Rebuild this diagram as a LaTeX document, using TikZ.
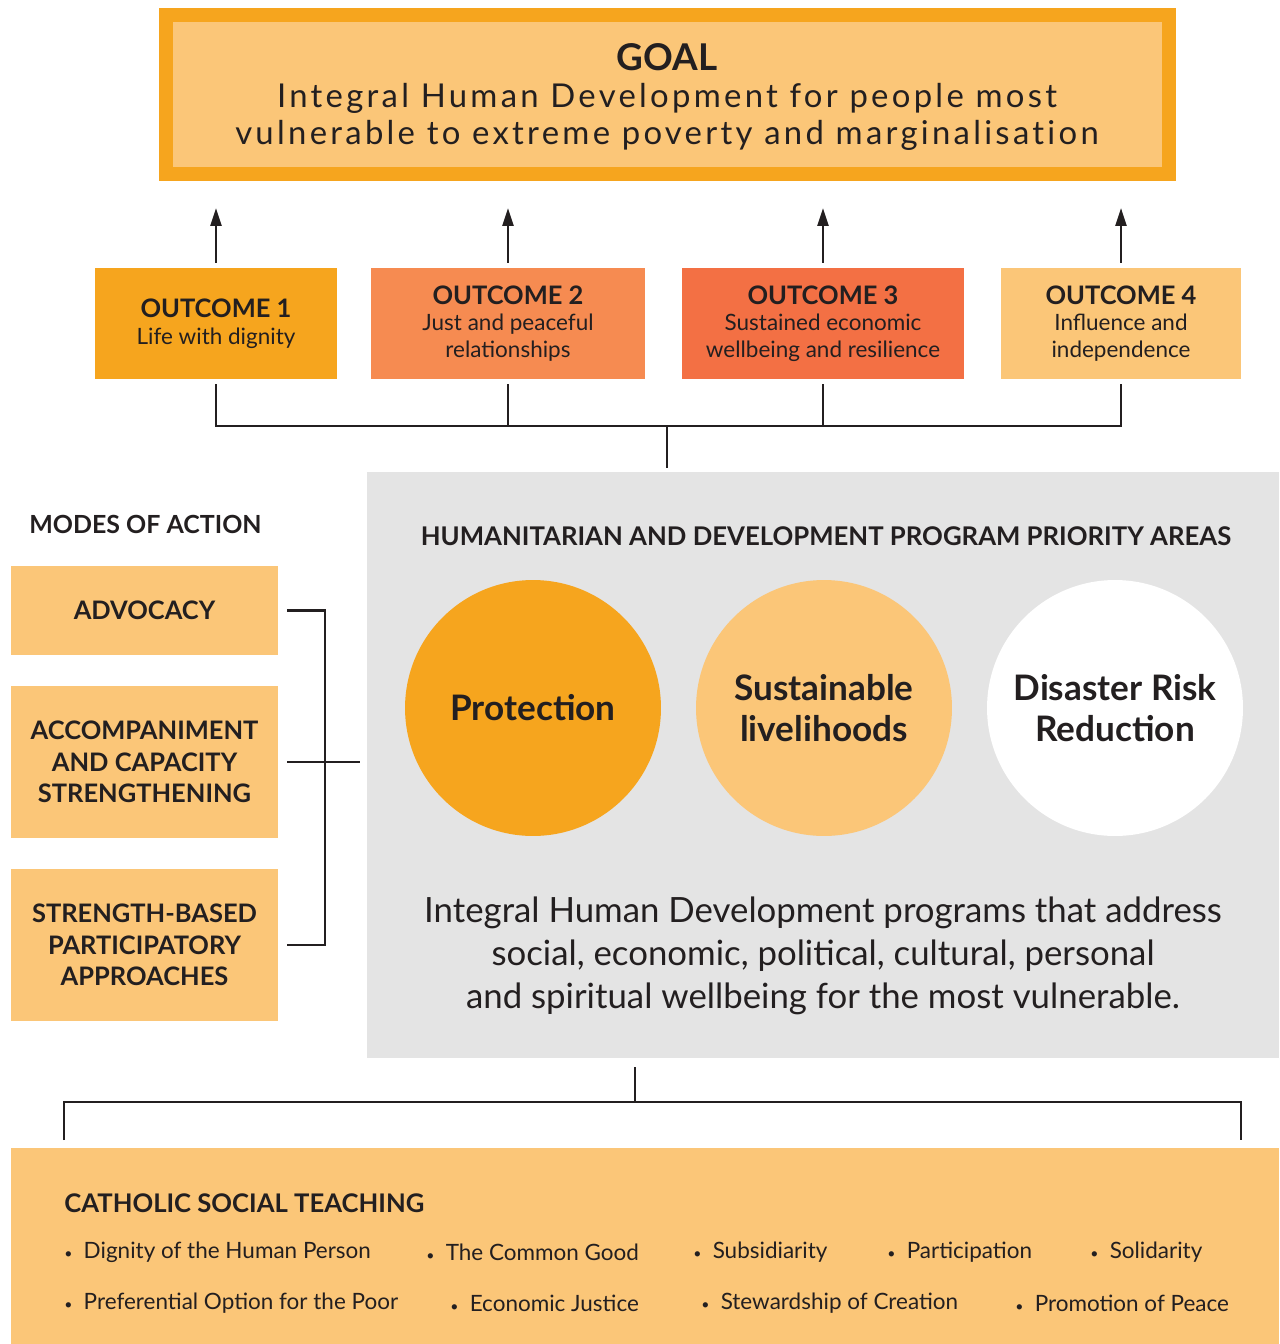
\documentclass[tikz,border=0pt]{standalone}
\usepackage{fontspec}
\setmainfont{Lato}
\newfontfamily\spacedfont{Lato}[LetterSpace=10, Ligatures=NoCommon]
\usetikzlibrary{arrows.meta}
\definecolor{ink}{HTML}{231F20}
\definecolor{paleorange}{HTML}{FBC678}
\definecolor{deeporange}{HTML}{F6A51E}
\definecolor{salmon}{HTML}{F68B51}
\definecolor{coral}{HTML}{F37044}
\definecolor{panelgray}{HTML}{E4E4E4}

\begin{document}
\begin{tikzpicture}[x=0.02cm, y=-0.02cm]
	\tikzset{
		box/.style={rectangle, inner sep=0pt, text=ink, align=center},
		outcome/.style={box, minimum height=2.22cm, font=\fontsize{12.8}{15.2}\selectfont},
		mode/.style={box, fill=paleorange, minimum width=5.34cm, font=\bfseries\fontsize{14.5}{18}\selectfont},
		area/.style={circle, inner sep=0pt, minimum size=5.12cm, text=ink, align=center, font=\bfseries\fontsize{20}{23.5}\selectfont},
		link/.style={draw=ink, line width=1.4pt},
		uparrow/.style={link, -{Triangle[length=0.36cm, width=0.22cm]}},
		bullet/.style={anchor=west, inner sep=0pt, text=ink, font=\fontsize{12.8}{15}\selectfont},
	}
	\useasboundingbox (0,0) rectangle (1279,1344);
	
	% The goal at the top.
	\node[box, fill=paleorange, draw=deeporange, line width=0.28cm, minimum width=20.06cm, minimum height=3.18cm] (goal) at (667.5,94.5) {};
	\node[box, font=\bfseries\fontsize{21}{25}\selectfont] (goaltitle) at (667,57) {GOAL};
	\node[box, font=\spacedfont\fontsize{18.7}{21.5}\selectfont] (goaltext) at (667,117) {Integral Human Development for people most\\ vulnerable to extreme poverty and marginalisation};
	
	% The four outcomes.
	\node[outcome, fill=deeporange, minimum width=4.84cm] (o1) at (216,323.5) {\textbf{\fontsize{14.5}{17}\selectfont OUTCOME 1}\\ Life with dignity};
	\node[outcome, fill=salmon, minimum width=5.48cm] (o2) at (508,323.5) {\textbf{\fontsize{14.5}{17}\selectfont OUTCOME 2}\\ Just and peaceful\\ relationships};
	\node[outcome, fill=coral, minimum width=5.64cm] (o3) at (823,323.5) {\textbf{\fontsize{14.5}{17}\selectfont OUTCOME 3}\\ Sustained economic\\ wellbeing and resilience};
	\node[outcome, fill=paleorange, minimum width=4.8cm] (o4) at (1121,323.5) {\textbf{\fontsize{14.5}{17}\selectfont OUTCOME 4}\\ Influence and\\ independence};
	
	\coordinate (goalfoot) at (667,208); % where the arrows stop
	\coordinate (hub) at (667,426);      % where the outcome lines meet
	\coordinate (hubend) at (667,468);
	
	% Arrows up to the goal.
	\draw[uparrow] ([yshift=0.1cm]o1.north) -- (o1.north |- goalfoot);
	\draw[uparrow] ([yshift=0.1cm]o2.north) -- (o2.north |- goalfoot);
	\draw[uparrow] ([yshift=0.1cm]o3.north) -- (o3.north |- goalfoot);
	\draw[uparrow] ([yshift=0.1cm]o4.north) -- (o4.north |- goalfoot);
	
	% Lines down from the outcomes.
	\draw[link] ([yshift=-0.1cm]o1.south) |- (hub) -| ([yshift=-0.1cm]o4.south);
	\draw[link] ([yshift=-0.1cm]o2.south) -- (o2.south |- hub);
	\draw[link] ([yshift=-0.1cm]o3.south) -- (o3.south |- hub);
	\draw[link] (hub) -- (hubend);
	
	% Program priority areas.
	\node[box, fill=panelgray, minimum width=18.24cm, minimum height=11.72cm] (prio) at (823,765) {};
	\node[box, font=\bfseries\fontsize{14.65}{17}\selectfont] (priotitle) at (826,536) {HUMANITARIAN AND DEVELOPMENT PROGRAM PRIORITY AREAS};
	\node[area, fill=deeporange] (protect) at (533,708) {Protection};
	\node[area, fill=paleorange] (liveli) at (824,708) {Sustainable\\ livelihoods};
	\node[area, fill=white] (drr) at (1115,708) {Disaster Risk\\ Reduction};
	\node[box, font=\fontsize{19.8}{24.4}\selectfont] (priotext) at (823,956) {Integral Human Development programs that address\\ social, economic, political, cultural, personal\\ and spiritual wellbeing for the most vulnerable.};
	
	% Modes of action.
	\node[box, font=\bfseries\fontsize{14.2}{17}\selectfont] (modestitle) at (145.5,524) {MODES OF ACTION};
	\node[mode, minimum height=1.78cm] (m1) at (144.5,610.5) {ADVOCACY};
	\node[mode, minimum height=3.04cm] (m2) at (144.5,762) {ACCOMPANIMENT\\ AND CAPACITY\\ STRENGTHENING};
	\node[mode, minimum height=3.04cm] (m3) at (144.5,945) {STRENGTH-BASED\\ PARTICIPATORY\\ APPROACHES};
	
	\coordinate (spine) at (325,762);
	\coordinate (modesend) at (360,762);
	\draw[link] ([xshift=0.18cm]m1.east) -| (spine) |- ([xshift=0.18cm]m3.east);
	\draw[link] ([xshift=0.18cm]m2.east) -- (modesend);
	
	% Catholic social teaching at the bottom.
	\node[box, fill=paleorange, minimum width=25.36cm, minimum height=3.92cm] (cst) at (645,1246) {};
	\coordinate (priofoot) at (635,1067);
	\coordinate (cstfork) at (635,1102);
	\coordinate (cstleft) at (64,1140);
	\coordinate (cstright) at (1241,1140);
	\draw[link] (priofoot) -- (cstfork);
	\draw[link] (cstleft) |- (cstfork) -| (cstright);
	
	\node[bullet, font=\bfseries\fontsize{14.6}{17}\selectfont] (csttitle) at (64,1203) {CATHOLIC SOCIAL TEACHING};
	\foreach \i/\x/\y/\t in {1/64/1252/Dignity of the Human Person, 2/426/1252/The Common Good,
		3/693/1252/Subsidiarity, 4/887/1252/Participation, 5/1090/1252/Solidarity,
		6/64/1303/Preferential Option for the Poor, 7/450/1303/Economic Justice,
		8/701/1303/Stewardship of Creation, 9/1015/1303/Promotion of Peace}
		\node[bullet] (b\i) at (\x,\y) {{\footnotesize\textbullet}\enspace\t};
\end{tikzpicture}
\end{document}
